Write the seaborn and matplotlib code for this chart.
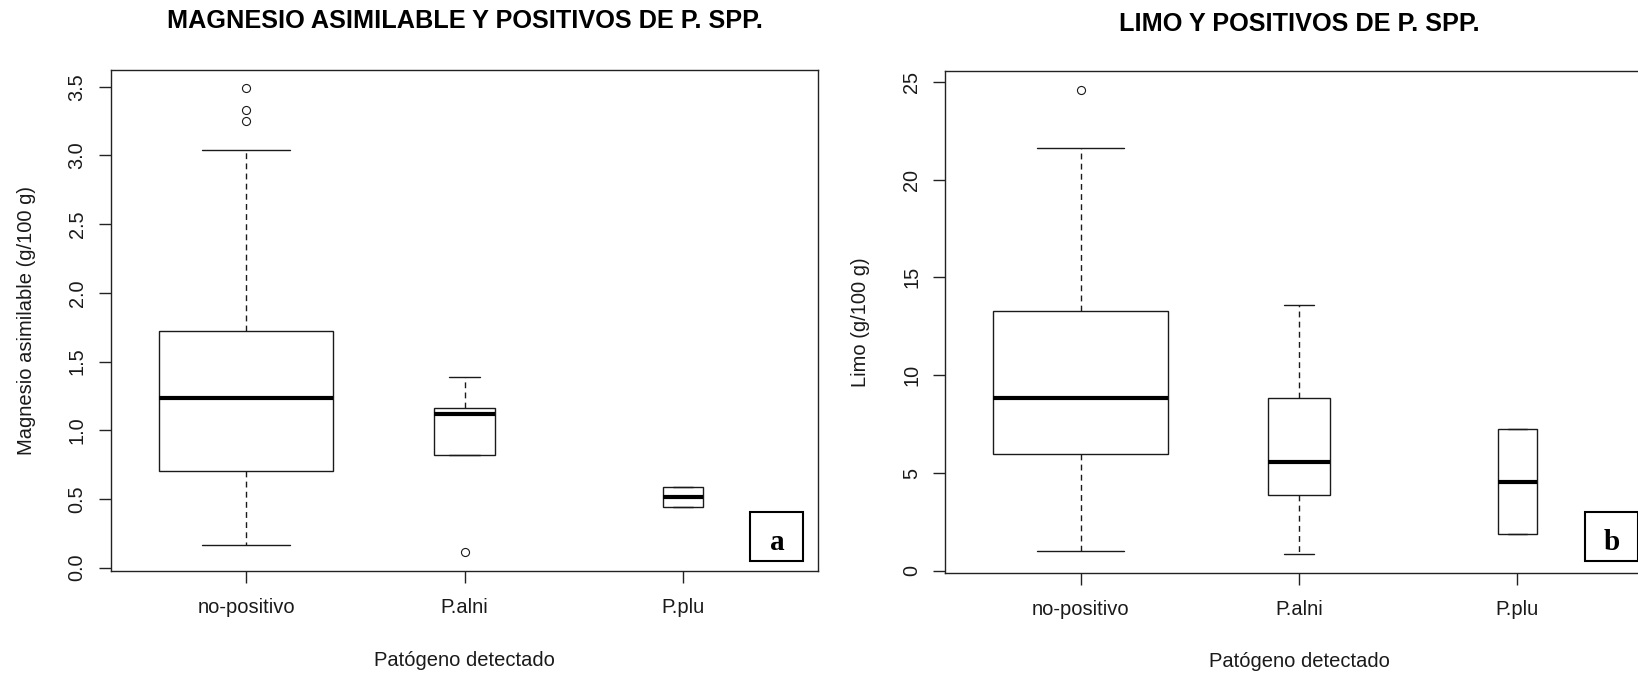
import numpy as np
import pandas as pd
import matplotlib
matplotlib.use("Agg")
import matplotlib.pyplot as plt
from matplotlib.patches import Rectangle
import seaborn as sns

# ---------------- data ----------------
categories = ["no-positivo", "P.alni", "P.plu"]
sample_sizes = [40, 5, 2]

mg_no_positivo = [0.163, 0.25, 0.31, 0.38, 0.44, 0.50, 0.56, 0.61, 0.66, 0.705,
                  0.705, 0.78, 0.85, 0.91, 0.98, 1.04, 1.09, 1.14, 1.19, 1.237,
                  1.237, 1.29, 1.34, 1.39, 1.44, 1.50, 1.55, 1.61, 1.67, 1.72,
                  1.72, 1.86, 2.02, 2.21, 2.45, 2.73, 3.04, 3.25, 3.33, 3.49]
mg_p_alni = [0.11, 0.82, 1.118, 1.159, 1.387]
mg_p_plu = [0.438, 0.438, 0.516, 0.589, 0.589]

limo_no_positivo = [1.01, 2.10, 2.85, 3.40, 3.95, 4.40, 4.80, 5.20, 5.60, 5.95,
                    5.95, 6.30, 6.70, 7.05, 7.40, 7.75, 8.05, 8.35, 8.60, 8.81,
                    8.81, 9.20, 9.70, 10.20, 10.70, 11.20, 11.70, 12.20, 12.75, 13.28,
                    13.28, 14.10, 15.00, 16.00, 17.10, 18.30, 19.60, 20.70, 21.61, 24.60]
limo_p_alni = [0.86, 3.86, 5.55, 8.86, 13.61]
limo_p_plu = [1.87, 1.87, 4.55, 7.27, 7.27]

mg_yticks = [0.0, 0.5, 1.0, 1.5, 2.0, 2.5, 3.0, 3.5]
mg_yticklabels = ["0.0", "0.5", "1.0", "1.5", "2.0", "2.5", "3.0", "3.5"]
limo_yticks = [0, 5, 10, 15, 20, 25]
limo_yticklabels = ["0", "5", "10", "15", "20", "25"]

titles = ["MAGNESIO ASIMILABLE Y POSITIVOS DE P. SPP.", "LIMO Y POSITIVOS DE P. SPP."]
ylabels = ["Magnesio asimilable (g/100 g)", "Limo (g/100 g)"]
xlabel = "Patógeno detectado"
panel_tags = ["a", "b"]

# ---------------- style ----------------
sns.set_theme(style="ticks")
plt.rcParams["font.family"] = ["Liberation Sans", "DejaVu Sans"]
plt.rcParams["axes.edgecolor"] = "#222222"
plt.rcParams["axes.linewidth"] = 1.0

INK = "#1a1a1a"
W, H = 1638, 674
fig = plt.figure(figsize=(W / 100, H / 100), dpi=100)
fig.patch.set_facecolor("white")

ax_a = fig.add_axes([111 / W, 1 - 571 / H, 707 / W, 501.4 / H])
ax_b = fig.add_axes([945.5 / W, 1 - 572.6 / H, 707 / W, 501.6 / H])


def draw_panel(ax, groups, ylim, yticks, yticklabels, title, ylabel, title_y):
    for cat, vals, n in zip(categories, groups, sample_sizes):
        df = pd.DataFrame({"Patógeno": [cat] * len(vals), "valor": vals})
        sns.boxplot(
            data=df, x="Patógeno", y="valor", order=categories,
            width=0.8 * np.sqrt(n / max(sample_sizes)),
            color="white", linecolor=INK, linewidth=1.0,
            fliersize=5.8, whis=1.5, ax=ax,
            medianprops=dict(linewidth=3.0, color="black"),
            whiskerprops=dict(linestyle=(0, (4.2, 3.1)), color=INK),
            capprops=dict(color=INK),
            flierprops=dict(marker="o", markerfacecolor="none",
                            markeredgecolor=INK, markeredgewidth=0.8),
        )
    ax.set_xlim(-0.618, 2.618)
    ax.set_ylim(*ylim)
    ax.set_yticks(yticks)
    ax.set_yticklabels(yticklabels, rotation=90, va="center")
    ax.set_xticks(range(len(categories)))
    ax.set_xticklabels(categories)
    ax.tick_params(axis="both", which="major", length=8.6, width=1.0,
                   color="#222222", labelcolor=INK, direction="out")
    ax.tick_params(axis="x", pad=11, labelsize=14.5)
    ax.tick_params(axis="y", pad=9, labelsize=14.3)
    for s in ax.spines.values():
        s.set_visible(True)
        s.set_color("#222222")
        s.set_linewidth(1.0)
    ax.set_xlabel(xlabel, fontsize=14.5, color=INK, va="center")
    ax.xaxis.set_label_coords(0.5, -0.178)
    ax.set_ylabel(ylabel, fontsize=14.5, color=INK, va="center")
    ax.yaxis.set_label_coords(-0.120, 0.5)
    ax.text(0.5, title_y, title, transform=ax.transAxes, ha="center", va="baseline",
            fontsize=18.2, fontweight="bold", color="black")
    ax.set_facecolor("white")
    ax.grid(False)


draw_panel(ax_a, [mg_no_positivo, mg_p_alni, mg_p_plu], (-0.025, 3.625),
           mg_yticks, mg_yticklabels, titles[0], ylabels[0], 1.083)
draw_panel(ax_b, [limo_no_positivo, limo_p_alni, limo_p_plu], (-0.09, 25.55),
           limo_yticks, limo_yticklabels, titles[1], ylabels[1], 1.080)

# panel tags in boxed labels
for (x0, tag, cx) in [(750, panel_tags[0], 777.3), (1585, panel_tags[1], 1612.0)]:
    fig.add_artist(Rectangle((x0 / W, 1 - 560.7 / H), 52.7 / W, 49 / H,
                             transform=fig.transFigure, fill=False,
                             edgecolor="black", linewidth=1.5))
    fig.text(cx / W, 1 - 550 / H, tag, ha="center", va="baseline",
             fontsize=21, fontweight="bold", family=["Liberation Serif", "DejaVu Serif"],
             color="black")

fig.savefig("out.png", dpi=100, facecolor="white")
